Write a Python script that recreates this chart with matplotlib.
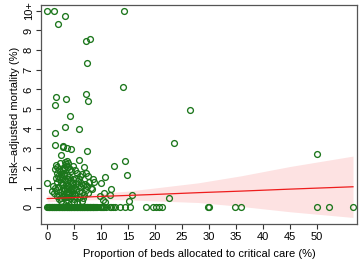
import matplotlib
matplotlib.use('Agg')
import matplotlib.pyplot as plt

plt.rcParams['font.family'] = ['Liberation Sans', 'DejaVu Sans']

# hospitals with zero risk-adjusted mortality (x = % beds in critical care)
zero_x = [0.0, 0.1, 0.25, 0.4, 0.5, 0.65, 0.8, 0.9, 1.05, 1.2, 1.3, 1.45, 1.6, 1.7,
          1.85, 2.0, 2.1, 2.25, 2.4, 2.5, 2.65, 2.8, 2.9, 3.05, 3.2, 3.3, 3.45, 3.6,
          3.7, 3.85, 4.0, 4.1, 4.25, 4.4, 4.5, 4.65, 4.8, 4.9, 5.05, 5.2, 5.3, 5.45,
          5.6, 5.7, 5.85, 6.0, 6.1, 6.25, 6.4, 6.5, 6.65, 6.8, 6.9, 7.05, 7.2, 7.3,
          7.45, 7.6, 7.7, 7.85, 8.0, 8.1, 8.25, 8.4, 8.5, 8.65, 8.8, 9.0, 9.2,
          9.8, 10.0, 10.2, 10.4, 10.6, 10.9, 11.6, 11.9, 12.2, 12.6, 13.5, 14.4,
          15.3, 18.3, 19.7, 20.2, 20.7, 21.2, 29.8, 30.0, 34.8, 35.9, 50.0, 52.3, 56.7]

# hospitals with non-zero mortality (values above 10 shown as 10+)
pos_x = [0.0, 1.3, 3.3, 2.0, 7.2, 7.9, 7.4, 14.3, 14.0, 7.1, 1.7, 3.5, 7.6, 1.5,
         4.2, 3.3, 5.9, 26.5, 50.0, 1.4, 1.4, 2.9, 3.0, 3.7, 4.5, 2.5, 7.4, 5.9,
         23.6, 12.4, 14.5, 14.8, 10.7, 10.0,
         1.6, 1.9, 2.1, 2.3, 1.8, 2.0, 2.5, 2.7, 2.9, 3.1, 3.3, 3.5, 3.6, 3.8,
         3.4, 3.9, 4.2, 4.5, 3.2, 3.7, 4.0, 4.8, 5.2, 5.6, 6.0, 6.4, 6.9, 7.2,
         7.5, 5.9, 5.4, 4.7, 2.2, 1.7, 2.4, 1.5,
         0.0, 1.0, 1.4, 2.6, 2.9, 3.3, 3.6, 3.9, 4.3, 4.6, 5.0, 5.3, 5.7, 6.2,
         6.6, 7.0, 7.7, 8.1, 8.5, 8.6, 2.0, 3.0, 4.1,
         0.8, 1.2, 1.6, 1.9, 2.3, 2.5, 2.8, 3.1, 3.4, 3.7, 4.0, 4.4, 4.7, 5.0,
         5.2, 5.5, 5.8, 6.1, 6.4, 6.8, 7.1, 7.6, 8.3, 5.6, 4.9, 3.9, 6.5, 2.1,
         9.8, 10.4, 10.8, 10.6, 11.8, 11.7, 15.1, 15.8, 22.5,
         2.2, 2.6, 3.0, 3.4, 3.8, 4.2, 4.6, 5.1, 3.2, 3.6, 4.1, 4.5, 2.7, 3.5,
         4.3, 1.8, 2.4, 3.1, 3.9, 4.8, 5.4, 6.0, 6.7, 7.3]
pos_y = [10.0, 10.0, 9.74, 9.32, 8.46, 8.56, 7.35, 10.0, 6.11, 5.76, 5.6, 5.53, 5.4, 5.2,
         4.64, 4.1, 4.0, 4.97, 2.7, 3.77, 3.17, 3.1, 3.05, 3.0, 2.95, 2.68, 2.85, 2.42,
         3.3, 2.1, 2.36, 1.65, 1.56, 1.22,
         2.15, 2.05, 1.95, 1.85, 1.75, 1.6, 1.7, 1.55, 1.9, 2.0, 2.3, 2.2, 2.35, 2.25,
         2.1, 2.05, 1.95, 1.85, 1.75, 1.65, 1.55, 2.1, 1.9, 1.75, 1.6, 1.7, 2.05, 1.75,
         1.6, 1.45, 1.5, 1.45, 1.45, 1.5, 2.25, 1.95,
         1.22, 1.1, 1.0, 1.3, 1.2, 1.4, 1.3, 1.15, 1.35, 1.25, 1.05, 1.2, 1.35, 1.25,
         1.15, 1.2, 1.3, 1.0, 1.45, 1.3, 1.05, 1.0, 1.05,
         0.85, 0.75, 0.9, 0.6, 0.8, 0.35, 0.7, 0.85, 0.55, 0.95, 0.75, 0.6, 0.9, 0.45,
         0.7, 0.25, 0.85, 0.55, 0.8, 0.65, 0.9, 0.75, 0.92, 0.5, 0.3, 0.4, 0.35, 0.45,
         0.58, 0.38, 0.25, 0.74, 0.92, 0.63, 0.34, 0.63, 0.47,
         0.65, 0.5, 0.6, 0.75, 0.55, 0.9, 0.7, 0.6, 0.95, 1.1, 0.8, 1.0, 1.15, 0.4,
         0.5, 1.3, 1.55, 1.65, 1.45, 1.25, 0.95, 1.05, 0.5, 1.1]

# linear fit and its confidence band
band_x = [0, 5, 10, 15, 20, 28, 36, 45, 56.7]
fit_y = [0.45, 0.50, 0.56, 0.61, 0.66, 0.75, 0.83, 0.93, 1.05]
band_lo = [0.28, 0.37, 0.40, 0.39, 0.33, 0.25, 0.05, -0.22, -0.51]
band_hi = [0.62, 0.63, 0.72, 0.83, 0.99, 1.25, 1.61, 2.08, 2.61]

x_ticks = [0, 5, 10, 15, 20, 25, 30, 35, 40, 45, 50]
y_ticks = [0, 1, 2, 3, 4, 5, 6, 7, 8, 9, 10]
y_labels = ['0', '1', '2', '3', '4', '5', '6', '7', '8', '9', '10+']

fig = plt.figure(figsize=(3.6, 2.6), dpi=100)
ax = fig.add_axes([0.115, 0.138, 0.876, 0.843])

green = '#1b761b'
ax.fill_between(band_x, band_lo, band_hi, color='#fde2e2', lw=0, zorder=1)
ax.plot(band_x, fit_y, color='#ee1c1c', lw=0.9, zorder=3)
ax.plot(pos_x, pos_y, 'o', ms=4.2, mfc='none', mec=green, mew=0.95, zorder=2)
ax.plot(zero_x, [0] * len(zero_x), 'o', ms=4.2, mfc='none', mec=green, mew=0.95, zorder=2)

ax.set_xlim(-1.08, 57.4)
ax.set_ylim(-0.85, 10.3)
ax.set_xticks(x_ticks)
ax.set_yticks(y_ticks)
ax.set_yticklabels(y_labels, rotation=90, va='center')
ax.tick_params(labelsize=8, length=3.5, width=0.8, color='#333333', pad=2)

for s in ax.spines.values():
    s.set_color('#555555')
    s.set_linewidth(0.9)

ax.set_xlabel('Proportion of beds allocated to critical care (%)', fontsize=8, labelpad=5)
ax.set_ylabel('Risk\u2013adjusted mortality (%)', fontsize=8, labelpad=3)

fig.savefig('out.png', dpi=100)
